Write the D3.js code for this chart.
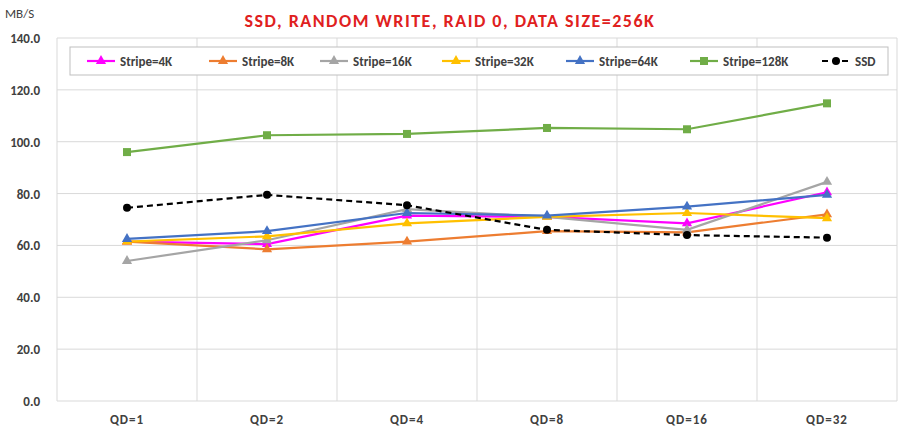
<!DOCTYPE html><html><head><meta charset="utf-8"><script src="https://d3js.org/d3.v7.min.js"></script>
<style>body{margin:0;background:#fff;font-family:Calibri,"Liberation Sans",Arial,sans-serif}</style></head><body><svg id="c" width="902" height="436"></svg>
<script>
const categories=["QD=1","QD=2","QD=4","QD=8","QD=16","QD=32"];
const yTicks=[0,20,40,60,80,100,120,140];
const stripe4K=[61.5,60.5,71.5,71,68.5,80.5];
const stripe8K=[61.5,58.5,61.5,65.5,65,72];
const stripe16K=[54,62,74,71,66,84.5];
const stripe32K=[61.5,63.5,68.5,71,72.5,70.5];
const stripe64K=[62.5,65.5,72.5,71.5,75,79.5];
const stripe128K=[96,102.5,103,105.3,104.8,114.8];
const ssd=[74.5,79.5,75.5,66,64,63];
const series=[
 {name:"Stripe=4K",v:stripe4K,c:"#ff00ff",m:"tri"},
 {name:"Stripe=8K",v:stripe8K,c:"#ed7d31",m:"tri"},
 {name:"Stripe=16K",v:stripe16K,c:"#a5a5a5",m:"tri"},
 {name:"Stripe=32K",v:stripe32K,c:"#ffc000",m:"tri"},
 {name:"Stripe=64K",v:stripe64K,c:"#4472c4",m:"tri"},
 {name:"Stripe=128K",v:stripe128K,c:"#70ad47",m:"sq"},
 {name:"SSD",v:ssd,c:"#000",m:"dot",dash:"6,4"}];
const svg=d3.select("#c");
const x=d3.scaleBand().domain(categories).range([57,897]);
const y=d3.scaleLinear().domain([0,140]).range([401,38]);
svg.append("g").selectAll("line").data(yTicks).join("line").attr("x1",57).attr("x2",897).attr("y1",d=>y(d)).attr("y2",d=>y(d)).attr("stroke","#d9d9d9");
svg.append("g").selectAll("line").data(d3.range(7)).join("line").attr("x1",d=>57+d*x.bandwidth()).attr("x2",d=>57+d*x.bandwidth()).attr("y1",38).attr("y2",401).attr("stroke","#d9d9d9");
svg.append("g").selectAll("text").data(yTicks).join("text").attr("x",40).attr("y",d=>y(d)+5).attr("text-anchor","end").attr("font-size",13).attr("font-weight","bold").attr("fill","#404040").text(d=>d.toFixed(1));
svg.append("g").selectAll("text").data(categories).join("text").attr("x",d=>x(d)+x.bandwidth()/2).attr("y",424).attr("text-anchor","middle").attr("font-size",13).attr("font-weight","bold").attr("fill","#404040").attr("letter-spacing",1).text(d=>d);
svg.append("text").attr("x",5).attr("y",18).attr("font-size",13).attr("fill","#404040").text("MB/S");
svg.append("text").attr("x",450).attr("y",27).attr("text-anchor","middle").attr("font-size",18).attr("font-weight","bold").attr("fill","#e02020").attr("letter-spacing",1.5).text("SSD, RANDOM WRITE, RAID 0, DATA SIZE=256K");
function marker(g,m,c,cx,cy,s){
 if(m=="tri")g.append("path").attr("d",d3.symbol(d3.symbolTriangle,s||45)()).attr("transform",`translate(${cx},${cy})`).attr("fill",c);
 else if(m=="sq")g.append("rect").attr("x",cx-4).attr("y",cy-4).attr("width",8).attr("height",8).attr("fill",c);
 else g.append("circle").attr("cx",cx).attr("cy",cy).attr("r",4).attr("fill",c);
}
const line=d3.line().x((d,i)=>x(categories[i])+x.bandwidth()/2).y(d=>y(d));
series.forEach(s=>{
 const g=svg.append("g");
 g.append("path").attr("d",line(s.v)).attr("fill","none").attr("stroke",s.c).attr("stroke-width",2.2).attr("stroke-dasharray",s.dash||null);
 s.v.forEach((v,i)=>marker(g,s.m,s.c,x(categories[i])+x.bandwidth()/2,y(v)));
});
svg.append("rect").attr("x",70).attr("y",47).attr("width",818).attr("height",28).attr("fill","#fff").attr("stroke","#bfbfbf");
const lx=[87,209,320,442,566,690,822];
series.forEach((s,i)=>{
 const g=svg.append("g");
 g.append("line").attr("x1",lx[i]).attr("x2",lx[i]+28).attr("y1",61).attr("y2",61).attr("stroke",s.c).attr("stroke-width",2.2).attr("stroke-dasharray",s.dash||null);
 marker(g,s.m,s.c,lx[i]+14,61);
 g.append("text").attr("x",lx[i]+33).attr("y",66).attr("font-size",13).attr("font-weight","bold").attr("fill","#404040").text(s.name);
});
</script></body></html>
